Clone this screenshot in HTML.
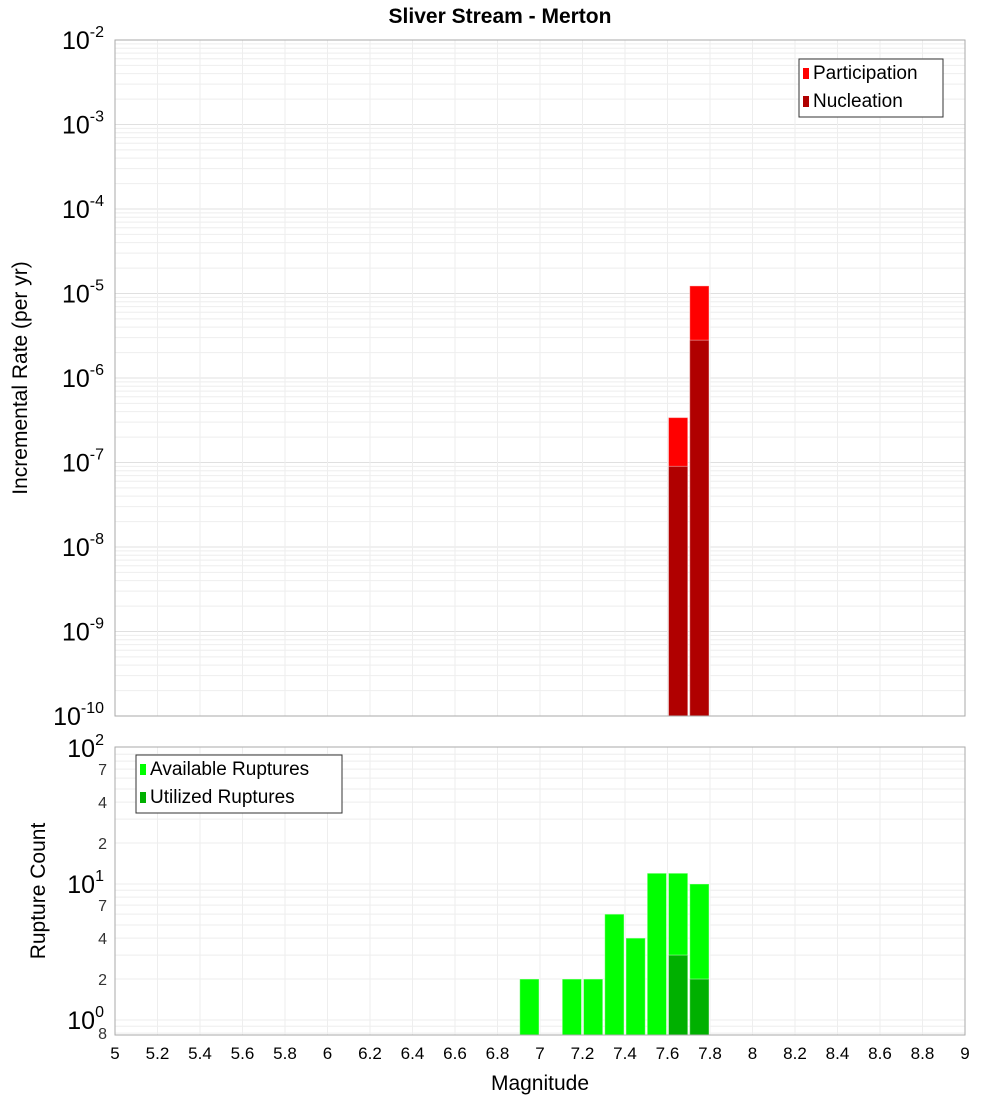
<!DOCTYPE html>
<html><head><meta charset="utf-8"><style>
body{margin:0;background:#fff}
svg{display:block;font-family:"Liberation Sans","DejaVu Sans",sans-serif}
</style></head><body>
<svg id="c" width="1000" height="1100">
<text x="500" y="23" text-anchor="middle" font-size="21" font-weight="bold">Sliver Stream - Merton</text>
<g id="top"></g>
<g id="bot"></g>
<text transform="translate(27,378) rotate(-90)" text-anchor="middle" font-size="21">Incremental Rate (per yr)</text>
<text transform="translate(45,891) rotate(-90)" text-anchor="middle" font-size="21">Rupture Count</text>
<text x="540" y="1090" text-anchor="middle" font-size="21">Magnitude</text>
</svg>
<script>
const rateMags=[7.65,7.75];
const participation=[3.4e-7,1.23e-5];
const nucleation=[9e-8,2.8e-6];
const countMags=[6.95,7.15,7.25,7.35,7.45,7.55,7.65,7.75];
const available=[2,2,2,6,4,12,12,10];
const utilized=[0,0,0,0,0,0,3,2];
const xTicks=[5,5.2,5.4,5.6,5.8,6,6.2,6.4,6.6,6.8,7,7.2,7.4,7.6,7.8,8,8.2,8.4,8.6,8.8,9];
const rateExps=[-2,-3,-4,-5,-6,-7,-8,-9,-10];
const countExps=[2,1,0];
const NS='http://www.w3.org/2000/svg';
const L=115,R=965;
const X=m=>L+(m-5)/4*(R-L);
const T0=40,T1=716;
const YT=v=>T0+(-2-Math.log10(v))*(T1-T0)/8;
const B0=748,BD=136,B1=1035;
const YB=v=>B0+(2-Math.log10(v))*BD;
function mk(p,tag,a,txt){const e=document.createElementNS(NS,tag);for(const k in a)e.setAttribute(k,a[k]);if(txt!=null)e.textContent=txt;p.appendChild(e);return e;}
const topG=document.getElementById('top'),botG=document.getElementById('bot'),svg=document.getElementById('c');
for(let e=-10;e<-2;e++)for(let k=1;k<10;k++){const y=YT(k*Math.pow(10,e));const g=mk(topG,'line',{x1:L,x2:R,y1:y,y2:y,stroke:k==1?'#e0e0e0':'#eeeeee','stroke-width':1});

}
for(let e=-1;e<2;e++)for(let k=1;k<10;k++){const v=k*Math.pow(10,e);if(v<0.78||v>100)continue;const y=YB(v);const g=mk(botG,'line',{x1:L,x2:R,y1:y,y2:y,stroke:'#eeeeee','stroke-width':1});

}
xTicks.forEach(m=>{[[topG,T0,T1],[botG,B0-1,B1]].forEach(([p,a,b])=>{const g=mk(p,'line',{x1:X(m),x2:X(m),y1:a,y2:b,stroke:'#eeeeee'});

});
const t=mk(svg,'text',{x:X(m),y:1059,'text-anchor':'middle','font-size':17},String(m));

});
const w=0.1*(R-L)/4;
function bar(p,m,v,y0fn,base,col,name){const x=X(m)-w/2+1,y=y0fn(v);const r=mk(p,'rect',{x:x,y:y,width:w-2,height:base-y,fill:col,stroke:'#ffffff','stroke-opacity':0.4,'stroke-width':1});

}
rateMags.forEach((m,i)=>{bar(topG,m,participation[i],YT,T1,'#ff0000','participation-bar');bar(topG,m,nucleation[i],YT,T1,'#b00000','nucleation-bar');});
countMags.forEach((m,i)=>{bar(botG,m,available[i],YB,B1,'#00ff00','available-bar');if(utilized[i]>0)bar(botG,m,utilized[i],YB,B1,'#00b000','utilized-bar');});
[[T0,T1],[B0-1,B1]].forEach(([a,b])=>{const f=mk(svg,'rect',{x:L,y:a,width:R-L,height:b-a,fill:'none',stroke:'#aaaaaa'});

});
rateExps.forEach(e=>{const y=YT(Math.pow(10,e));const t=mk(svg,'text',{x:104,y:y+9,'text-anchor':'end','font-size':25});t.appendChild(document.createTextNode('10'));mk(t,'tspan',{dy:-12,'font-size':16},String(e));

});
countExps.forEach(e=>{const y=YB(Math.pow(10,e));const t=mk(svg,'text',{x:104,y:y+9,'text-anchor':'end','font-size':25});t.appendChild(document.createTextNode('10'));mk(t,'tspan',{dy:-12,'font-size':16},String(e));

});
[[7,10],[4,10],[2,10],[7,1],[4,1],[2,1],[8,0.1]].forEach(([k,s])=>{const t=mk(svg,'text',{x:107,y:YB(k*s)+6,'text-anchor':'end','font-size':16,fill:'#333'},String(k));

});
function legend(x,y,wd,items,name){const g=mk(svg,'g',{});


mk(g,'rect',{x:x,y:y,width:wd,height:58,fill:'#fff',stroke:'#333'});
items.forEach(([c,l],i)=>{mk(g,'rect',{x:x+4,y:y+9+i*28,width:6,height:11,fill:c});const t=mk(g,'text',{x:x+14,y:y+20+i*28,'font-size':19},l);

});}
legend(799,59,144,[['#ff0000','Participation'],['#b00000','Nucleation']],'rate-legend');
legend(136,755,206,[['#00ff00','Available Ruptures'],['#00b000','Utilized Ruptures']],'count-legend');
</script>
</body></html>
